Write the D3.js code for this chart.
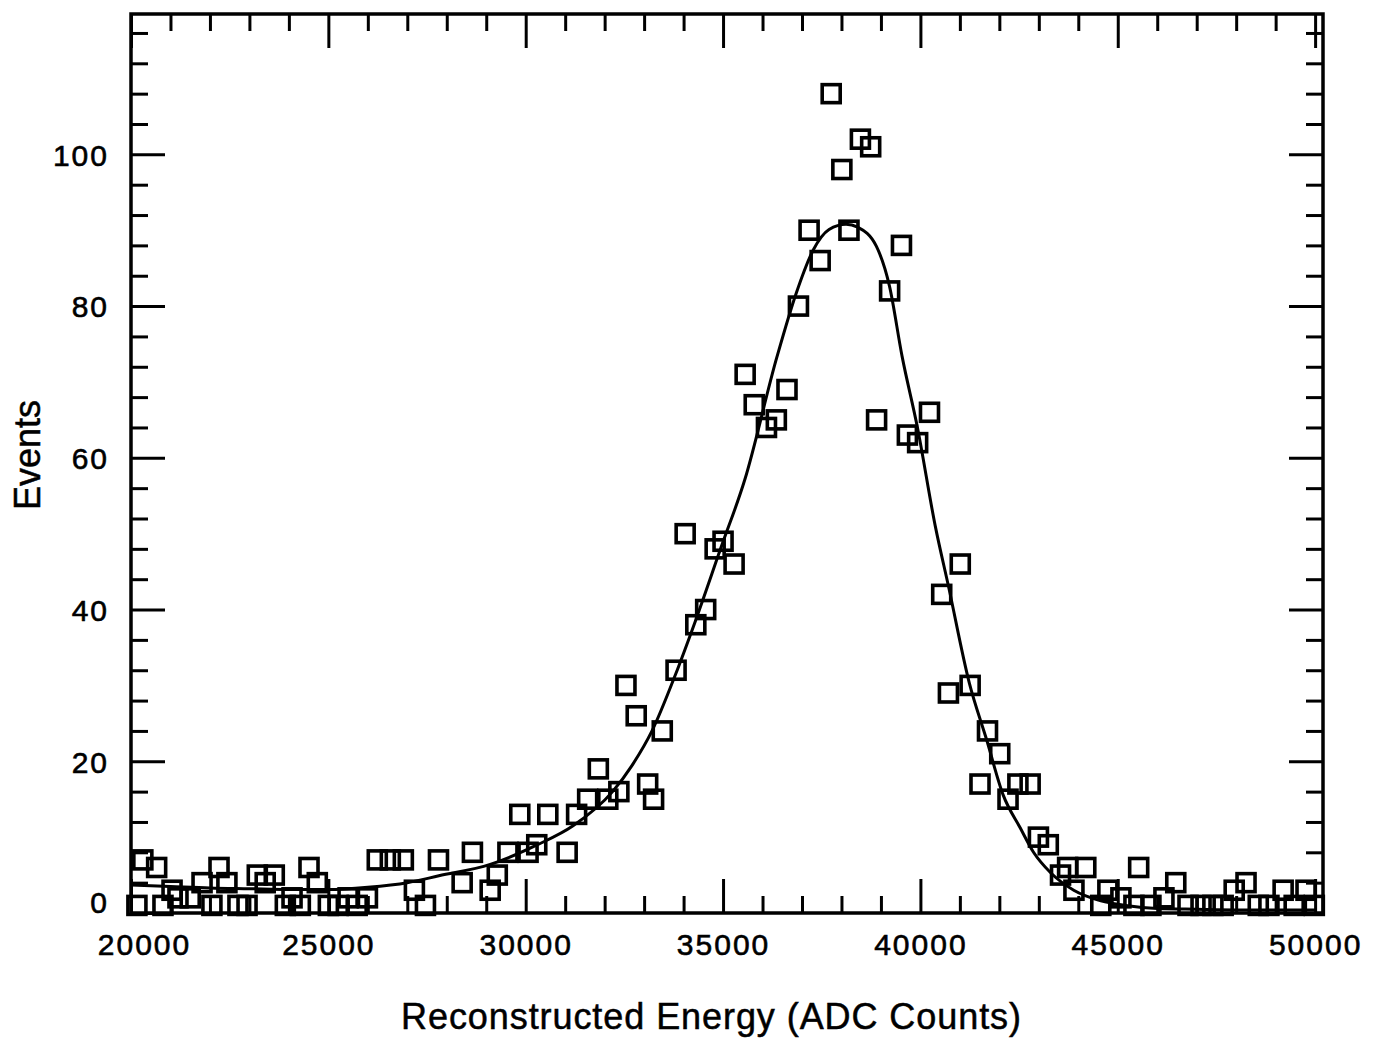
<!DOCTYPE html>
<html>
<head>
<meta charset="utf-8">
<script src="https://cdn.jsdelivr.net/npm/d3@7"></script>
<style>
  html, body { margin: 0; padding: 0; background: #fff; }
  svg { display: block; }
  text { font-family: "Liberation Sans", Arial, Helvetica, sans-serif; fill: #000; }
</style>
</head>
<body>
<svg id="chart" width="1385" height="1043"></svg>
<script>
// Measured spectrum: energy of each bin (ADC counts) and the number of events in it
const binEnergy = [
  20150, 20300, 20650, 20810, 21040, 21190, 21500, 21800, 22050, 22230,
  22430, 22710, 22940, 23200, 23400, 23630, 23910, 24080, 24290, 24510,
  24720, 25000, 25250, 25500, 25730, 25990, 26240, 26570, 26900, 27180,
  27460, 27790, 28390, 28650, 29100, 29280, 29550, 29850, 30060, 30280,
  30560, 31050, 31290, 31570, 31840, 32080, 32360, 32540, 32800, 33090,
  33240, 33460, 33810, 34040, 34310, 34560, 34800, 35000, 35280, 35560,
  35790, 36100, 36350, 36620, 36910, 37180, 37460, 37740, 38010, 38190,
  38480, 38740, 38890, 39220, 39520, 39670, 39930, 40230, 40540, 40710,
  41010, 41260, 41510, 41700, 42010, 42220, 42470, 42780, 42990, 43240,
  43550, 43730, 43890, 44190, 44570, 44750, 45080, 45410, 45530, 45840,
  46170, 46470, 46780, 47110, 47410, 47670, 47950, 48250, 48560, 48830,
  49190, 49470, 49770, 49980
];
const binEvents = [
  1, 7, 6, 1, 3, 2, 2, 4, 1, 6,
  4, 1, 1, 5, 4, 5, 1, 2, 1, 6,
  4, 1, 1, 2, 1, 2, 7, 7, 7, 3,
  1, 7, 4, 8, 3, 5, 8, 13, 8, 9,
  13, 8, 13, 15, 19, 15, 16, 30, 26, 17,
  15, 24, 32, 50, 38, 40, 48, 49, 46, 71,
  67, 64, 65, 69, 80, 90, 86, 108, 98, 90,
  102, 101, 65, 82, 88, 63, 62, 66, 42, 29,
  46, 30, 17, 24, 21, 15, 17, 17, 10, 9,
  5, 6, 3, 6, 1, 3, 2, 1, 6, 1,
  2, 4, 1, 1, 1, 1, 3, 4, 1, 1,
  3, 1, 3, 1
];

// Fitted line shape, sampled along the energy axis
const fitEnergy = [
  20000, 21000, 22000, 23000, 24000, 25000, 26000, 27000, 27800, 29100,
  30300, 31200, 32200, 32700, 33200, 33800, 34300, 34950, 35550, 36365,
  36860, 37285, 37686, 38117, 38410, 38883, 39218, 39535, 39925, 40377,
  40714, 41240, 41680, 42093, 42531, 42866, 43300, 43885, 44574, 45200,
  46000, 47000, 48500, 50000
];
const fitEvents = [
  3.7, 3.5, 3.3, 3.2, 3.1, 3.1, 3.4, 4.0, 4.9, 6.4,
  9.0, 11.5, 16.0, 19.5, 24.0, 31.5, 38.5, 48.2, 57.1, 73.3,
  81.8, 87.4, 90.1, 90.8, 90.4, 87.9, 82.6, 73.4, 64.0, 51.0,
  43.0, 30.3, 22.8, 15.6, 11.2, 8.0, 5.3, 3.0, 1.6, 1.0,
  0.6, 0.5, 0.4, 0.4
];

// Axis labels
const xTickLabels = [20000, 25000, 30000, 35000, 40000, 45000, 50000];
const yTickLabels = [0, 20, 40, 60, 80, 100];
const xMinorStep = 1000;
const yMinorStep = 4;
const xTitle = "Reconstructed Energy (ADC Counts)";
const yTitle = "Events";

// Frame of the plotting area
const frame = { left: 131, right: 1323, top: 14, bottom: 913 };

const svg = d3.select("#chart");
svg.append("rect").attr("width", 1385).attr("height", 1043).attr("fill", "#fff");

const x = d3.scaleLinear().domain([20000, 50200]).range([frame.left, frame.right]);
const y = d3.scaleLinear().domain([0, 118.5]).range([frame.bottom, frame.top]);

const xMinor = d3.range(20000, 50001, xMinorStep).filter(v => v % 5000 !== 0);
const yMinor = d3.range(0, 118, yMinorStep).filter(v => v % 20 !== 0);

const majorLen = 34, minorLen = 17;

function styleAxis(g) {
  g.select(".domain").remove();
  g.selectAll(".tick line").attr("stroke", "#000").attr("stroke-width", 3);
  g.selectAll("text")
    .attr("font-family", "'Liberation Sans', Arial, Helvetica, sans-serif")
    .attr("font-size", 30)
    .style("letter-spacing", "2px")
    .attr("fill", "#000")
    .attr("stroke", "#000")
    .attr("stroke-width", 0.6);
}

// bottom axis
svg.append("g").attr("transform", `translate(0,${frame.bottom})`)
  .call(d3.axisBottom(x).tickValues(xMinor).tickSize(-minorLen).tickFormat(""))
  .call(styleAxis);
const xAxisG = svg.append("g").attr("transform", `translate(0,${frame.bottom})`)
  .call(d3.axisBottom(x).tickValues(xTickLabels).tickSize(-majorLen).tickPadding(21).tickFormat(d3.format("d")))
  .call(styleAxis);
// the first label sits a little right of its tick, clear of the "0"
xAxisG.selectAll(".tick text").filter(d => d === xTickLabels[0]).attr("dx", 13);

// top axis
svg.append("g").attr("transform", `translate(0,${frame.top})`)
  .call(d3.axisTop(x).tickValues(xMinor).tickSize(-minorLen).tickFormat(""))
  .call(styleAxis);
svg.append("g").attr("transform", `translate(0,${frame.top})`)
  .call(d3.axisTop(x).tickValues(xTickLabels).tickSize(-majorLen).tickFormat(""))
  .call(styleAxis);

// left axis
svg.append("g").attr("transform", `translate(${frame.left},0)`)
  .call(d3.axisLeft(y).tickValues(yMinor).tickSize(-minorLen).tickFormat(""))
  .call(styleAxis);
const yAxisG = svg.append("g").attr("transform", `translate(${frame.left},0)`)
  .call(d3.axisLeft(y).tickValues(yTickLabels).tickSize(-majorLen).tickPadding(22).tickFormat(d3.format("d")))
  .call(styleAxis);
yAxisG.selectAll(".tick text").attr("dy", "0.36em");
// the zero label is lifted above the corner
yAxisG.selectAll(".tick text").filter(d => d === 0).attr("y", -11);

// right axis
svg.append("g").attr("transform", `translate(${frame.right},0)`)
  .call(d3.axisRight(y).tickValues(yMinor).tickSize(-minorLen).tickFormat(""))
  .call(styleAxis);
svg.append("g").attr("transform", `translate(${frame.right},0)`)
  .call(d3.axisRight(y).tickValues(yTickLabels).tickSize(-majorLen).tickFormat(""))
  .call(styleAxis);

// frame
svg.append("rect")
  .attr("x", frame.left).attr("y", frame.top)
  .attr("width", frame.right - frame.left).attr("height", frame.bottom - frame.top)
  .attr("fill", "none").attr("stroke", "#000").attr("stroke-width", 3.5);

// fitted curve
const fitData = fitEnergy.map((e, i) => ({ e, v: fitEvents[i] }));
svg.append("path")
  .datum(fitData)
  .attr("fill", "none").attr("stroke", "#000").attr("stroke-width", 3)
  .attr("stroke-linejoin", "round")
  .attr("d", d3.line().x(d => x(d.e)).y(d => y(d.v)).curve(d3.curveMonotoneX));

// data points as open squares
const pts = binEnergy.map((e, i) => ({ e, v: binEvents[i] }));
const side = 18;
svg.append("g").selectAll("rect").data(pts).join("rect")
  .attr("x", d => x(d.e) - side / 2)
  .attr("y", d => y(d.v) - side / 2)
  .attr("width", side).attr("height", side)
  .attr("fill", "none").attr("stroke", "#000").attr("stroke-width", 3.6);

// axis titles
svg.append("text")
  .attr("x", 711).attr("y", 1029)
  .attr("text-anchor", "middle")
  .attr("font-size", 36)
  .attr("stroke", "#000").attr("stroke-width", 0.5)
  .attr("textLength", 620).attr("lengthAdjust", "spacing")
  .text(xTitle);

svg.append("text")
  .attr("transform", "translate(40,455) rotate(-90)")
  .attr("text-anchor", "middle")
  .attr("font-size", 36)
  .attr("stroke", "#000").attr("stroke-width", 0.5)
  .attr("textLength", 110).attr("lengthAdjust", "spacing")
  .text(yTitle);
</script>
</body>
</html>
